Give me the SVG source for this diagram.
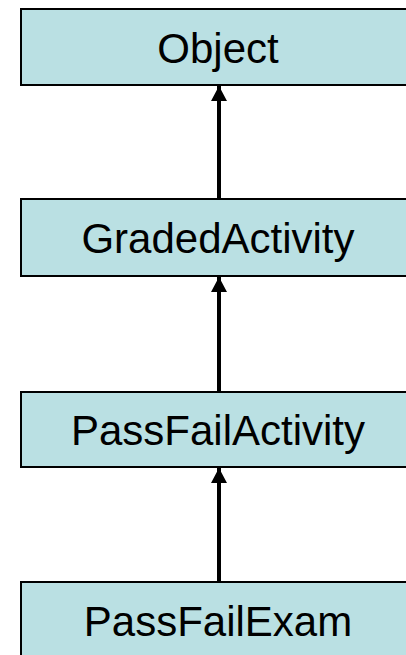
<svg xmlns="http://www.w3.org/2000/svg" width="406" height="655" viewBox="0 0 406 655">
<defs>
<style>
.box{fill:#BAE0E3;stroke:#000;stroke-width:2}
.lbl{font-family:"Liberation Sans",Arial,sans-serif;font-size:42px;fill:#000;text-anchor:middle}
.conn{stroke:#000;stroke-width:4;fill:none;marker-end:url(#arr)}
</style>
<marker id="arr" markerUnits="userSpaceOnUse" markerWidth="16" markerHeight="16" refX="15" refY="8" orient="auto">
<path d="M0,0 L15,8 L0,16 Z" fill="#000"/>
</marker>
</defs>
<rect width="406" height="655" fill="#fff"/>
<g id="connectors">
<line class="conn" x1="219" y1="198" x2="219" y2="86"/>
<line class="conn" x1="219" y1="391" x2="219" y2="277"/>
<line class="conn" x1="219" y1="581" x2="219" y2="468"/>
</g>
<g id="node-object">
<rect class="box" x="21" y="9" width="396" height="76"/>
<text class="lbl" x="218" y="63">Object</text>
</g>
<g id="node-gradedactivity">
<rect class="box" x="21" y="199" width="396" height="77"/>
<text class="lbl" x="218" y="253">GradedActivity</text>
</g>
<g id="node-passfailactivity">
<rect class="box" x="21" y="392" width="396" height="75"/>
<text class="lbl" x="218" y="445">PassFailActivity</text>
</g>
<g id="node-passfailexam">
<rect class="box" x="21" y="582" width="396" height="77"/>
<text class="lbl" x="218" y="636">PassFailExam</text>
</g>
</svg>
